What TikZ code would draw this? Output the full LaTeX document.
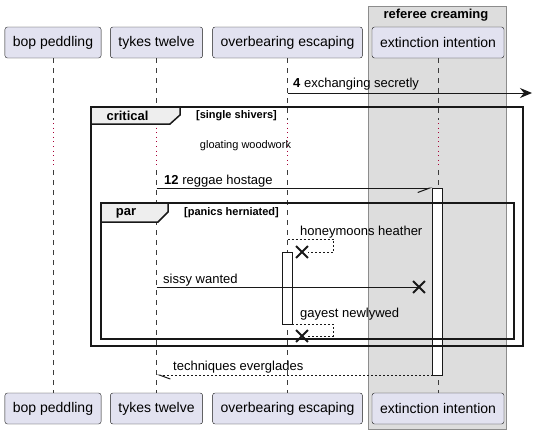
\documentclass[tikz,border=0pt]{standalone}
\usepackage{fontspec}
\setmainfont{Liberation Sans}
\usetikzlibrary{arrows.meta,positioning,shapes.misc}

\definecolor{partfill}{HTML}{E2E2F0}
\definecolor{inkline}{HTML}{181818}
\definecolor{groupfill}{HTML}{DDDDDD}
\definecolor{groupline}{HTML}{8C8C8C}
\definecolor{tabfill}{HTML}{EEEEEE}
\definecolor{delaydot}{HTML}{A80036}

\begin{document}
\begin{tikzpicture}[x=1pt, y=-1pt,
					participant/.style={draw=inkline, fill=partfill, rounded corners=2.5pt, minimum height=31pt, inner xsep=8pt, font=\fontsize{14}{16}\selectfont},
					lifeline/.style={draw=inkline!85, line width=0.8pt, dash pattern=on 5pt off 5pt},
					delay line/.style={draw=delaydot, line width=1pt, dash pattern=on 1pt off 3.6pt},
					message/.style={draw=inkline, line width=1pt},
					reply/.style={draw=inkline, line width=1pt, dash pattern=on 2pt off 2pt},
					msg label/.style={anchor=base west, inner sep=0pt, font=\fontsize{13}{15}\selectfont},
					activation/.style={draw=inkline, fill=white, line width=1pt, anchor=north, inner sep=0pt, outer sep=0pt},
					combined/.style={draw=inkline, line width=1.5pt, anchor=north west, inner sep=0pt, outer sep=0pt},
					tab/.style={draw=inkline, fill=tabfill, line width=1.5pt},
					tab label/.style={inner sep=0pt, font=\fontsize{13}{15}\selectfont\bfseries},
					guard/.style={inner sep=0pt, font=\fontsize{11}{13}\selectfont\bfseries},
					destroy/.style={draw=inkline, cross out, line width=1.8pt, minimum size=10pt, inner sep=0pt},
				]
					\useasboundingbox (0,0) rectangle (533,434);
					
					\node[draw=groupline, fill=groupfill, line width=1pt, anchor=north west, minimum width=138pt, minimum height=423pt, inner sep=0pt] (referee) at (368,6) {};
					\node[tab label] (referee-title) at (436,15) {referee creaming};
					
					\node[participant] (bop-top) at (53,42.5) {bop peddling};
					\node[participant] (tykes-top) at (156.5,42.5) {tykes twelve};
					\node[participant] (over-top) at (287.5,42.5) {overbearing escaping};
					\node[participant] (ext-top) at (438,42.5) {extinction intention};
					\node[participant] (bop-bot) at (53,408.5) {bop peddling};
					\node[participant] (tykes-bot) at (156.5,408.5) {tykes twelve};
					\node[participant] (over-bot) at (287.5,408.5) {overbearing escaping};
					\node[participant] (ext-bot) at (438,408.5) {extinction intention};
					
					\foreach \p in {bop,tykes,over,ext} {
						\draw[lifeline] (\p-top.south) -- (\p-top |- 0,120);
						\draw[delay line] (\p-top |- 0,123) -- (\p-top |- 0,167);
						\draw[lifeline] (\p-top |- 0,170) -- (\p-bot.north);
					}
					
					\node[activation, minimum width=10pt, minimum height=187pt] (ext-act) at (437.5,188) {};
					\node[activation, minimum width=10pt, minimum height=72pt] (over-act) at (287,252) {};
					
					\coordinate (out-right) at (532,93);
					\draw[message, -{Stealth[length=12pt, width=10pt, inset=4pt]}] (over-top |- 0,93) -- (out-right);
					\node[msg label] (m4-label) at (293,87.5) {\textbf{4} exchanging secretly};
					
					\node[combined, minimum width=432pt, minimum height=239pt] (critical) at (91,107) {};
					\draw[tab] (critical.north west) -- ++(89,0) -- ++(0,8) -- ++(-10,9) -- ++(-79,0) -- cycle;
					\node[tab label] (critical-label) at (127.5,116) {critical};
					\node[guard] (critical-guard) at (236.5,116) {[single shivers]};
					\node[inner sep=0pt, font=\fontsize{11}{13}\selectfont] (delay-label) at (245.5,146) {gloating woodwork};
					
					\draw[message, -{Straight Barb[right, length=12pt, width=9pt]}] (tykes-top |- 0,188) -- (ext-act.north west);
					\node[msg label] (m12-label) at (164,184.5) {\textbf{12} reggae hostage};
					
					\node[combined, minimum width=413pt, minimum height=136pt] (par) at (101,203) {};
					\draw[tab] (par.north west) -- ++(67,0) -- ++(0,9) -- ++(-10,10) -- ++(-57,0) -- cycle;
					\node[tab label] (par-label) at (126,213) {par};
					\node[guard] (par-guard) at (231.5,213) {[panics herniated]};
					
					\node[destroy] (honey-x) at (302,252) {};
					\draw[reply] (over-top |- 0,239) -- ++(46,0) |- (honey-x.east);
					\node[msg label] (honey-label) at (300,235.5) {honeymoons heather};
					
					\node[destroy] (sissy-x) at (419,287) {};
					\draw[message] (tykes-top |- 0,287) -- (sissy-x.center);
					\node[msg label] (sissy-label) at (163,283.5) {sissy wanted};
					
					\node[destroy] (gayest-x) at (302,336) {};
					\draw[reply] (over-act.south east) -- ++(41,0) |- (gayest-x.east);
					\node[msg label] (gayest-label) at (300,317.5) {gayest newlywed};
					
					\draw[reply, -{Straight Barb[left, length=11pt, width=8pt]}] (ext-act.south west) -- (tykes-top |- 0,375);
					\node[msg label] (tech-label) at (173,370.5) {techniques everglades};
				\end{tikzpicture}
\end{document}
